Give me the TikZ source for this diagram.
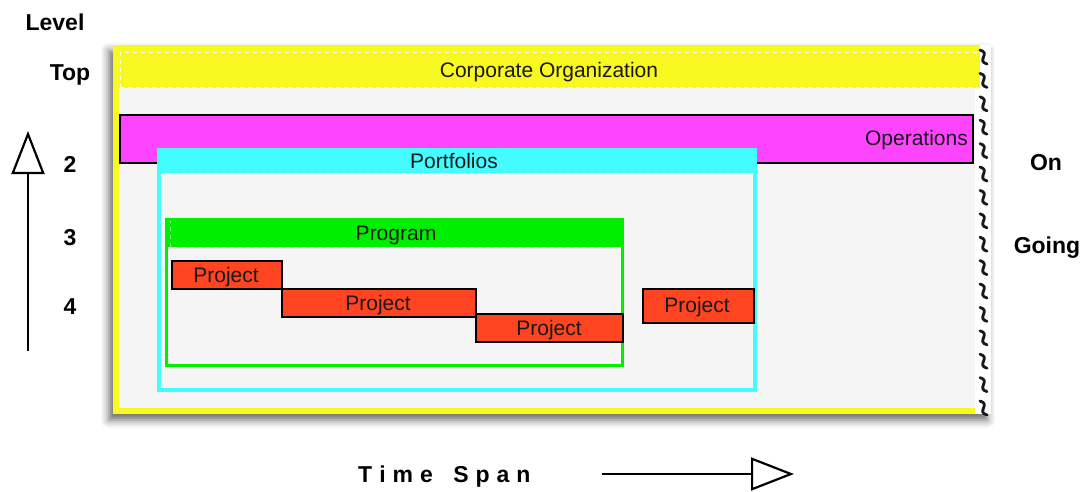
\documentclass[tikz,border=0pt]{standalone}
\usepackage{fontspec}
\setmainfont{Liberation Sans}
\usetikzlibrary{shadows.blur,arrows.meta}
\definecolor{corpyellow}{HTML}{F9F922}
\definecolor{panelgray}{HTML}{F5F5F5}
\definecolor{opsmagenta}{HTML}{FF44FF}
\definecolor{portcyan}{HTML}{44FCFF}
\definecolor{proggreen}{HTML}{00EE00}
\definecolor{projred}{HTML}{FF4422}
\newcommand\tsgap{\kern7pt}

\begin{document}
\begin{tikzpicture}[x=1pt,y=-1pt,
  boxtext/.style={font=\fontsize{21}{24}\selectfont, anchor=base, inner sep=0pt, text=black!90},
  axislbl/.style={font=\fontsize{23}{26}\selectfont\bfseries, anchor=base, inner sep=0pt},
  projbox/.style={draw=black, line width=1.5pt, fill=projred},
  hdrdash/.style={line width=1pt, dash pattern=on 4pt off 4pt},
  squiggle/.style={line width=2.8pt, line cap=round, black!90},
  axisarrow/.style={line width=2.2pt, -{Triangle[open, length=43pt, width=33pt, line width=2.2pt]}}
]
\useasboundingbox (0,0) rectangle (1083,492);

% sheet with its drop shadow
\path[fill=white, blur shadow={shadow xshift=-4pt, shadow yshift=-6pt, shadow blur radius=8pt, shadow opacity=60}]
  (113,45) rectangle (991,414);

% corporate organization frame
\fill[corpyellow] (113,45) rectangle (975,414);
\fill[corpyellow] (113,45) rectangle (980,88);
\fill[panelgray] (119,88) rectangle (975,408);
\draw[white, hdrdash] (120,88) -- (120,53) -- (977,53);
\draw[white, hdrdash] (120,88) -- (977,88);
\node[boxtext] (corp) at (549,78) {Corporate Organization};

% operations bar
\draw[fill=opsmagenta, line width=1.5pt] (120,115) rectangle (973,163);
\node[boxtext, anchor=base east] (ops) at (968,146) {Operations};

% portfolios
\fill[portcyan] (157,148) rectangle (757,392);
\fill[panelgray] (161,173) rectangle (753,388);
\draw[white!60!portcyan, hdrdash] (161,173) -- (753,173);
\node[boxtext] (port) at (454,168) {Portfolios};

% program
\fill[proggreen] (165,218) rectangle (624,367);
\fill[panelgray] (168,247) rectangle (621,364);
\draw[white!60!proggreen, hdrdash] (170,247) -- (170,221);
\draw[white!60!proggreen, hdrdash] (170,247) -- (621,247);
\node[boxtext] (prog) at (396,240) {Program};

% projects
\draw[projbox] (172,261) rectangle (282,289);
\node[boxtext] (proj1) at (226,282) {Project};
\draw[projbox] (282,289) rectangle (476,317);
\node[boxtext] (proj2) at (378,310) {Project};
\draw[projbox] (476,314) rectangle (623,342);
\node[boxtext] (proj3) at (549,335) {Project};
\draw[projbox] (643,289) rectangle (754,323);
\node[boxtext] (proj4) at (697,312) {Project};

% torn right edge
\foreach \i in {0,...,15} {
  \pgfmathsetmacro\yy{57+\i*23.4}
  \draw[squiggle] (980,{\yy-7}) .. controls (991,{\yy-4}) and (976,{\yy+4}) .. (987,{\yy+7});
}

% level axis
\node[axislbl] (level) at (55,31) {Level};
\node[axislbl] (ltop) at (70,81) {Top};
\node[axislbl] (l2) at (70,172) {2};
\node[axislbl] (l3) at (70,245) {3};
\node[axislbl] (l4) at (70,314) {4};
\coordinate (vtail) at (28,351);
\coordinate (vtip) at (28,131);
\draw[axisarrow] (vtail) -- (vtip);

% ongoing label
\node[axislbl] (on) at (1046,170) {On};
\node[axislbl] (going) at (1047,253) {Going};

% time axis
\node[axislbl, anchor=base west] (tspan) at (358,482)
  {T\tsgap i\tsgap m\tsgap e\tsgap\ \tsgap S\tsgap p\tsgap a\tsgap n};
\coordinate (htail) at (602,474);
\coordinate (htip) at (794,474);
\draw[axisarrow] (htail) -- (htip);
\end{tikzpicture}
\end{document}
